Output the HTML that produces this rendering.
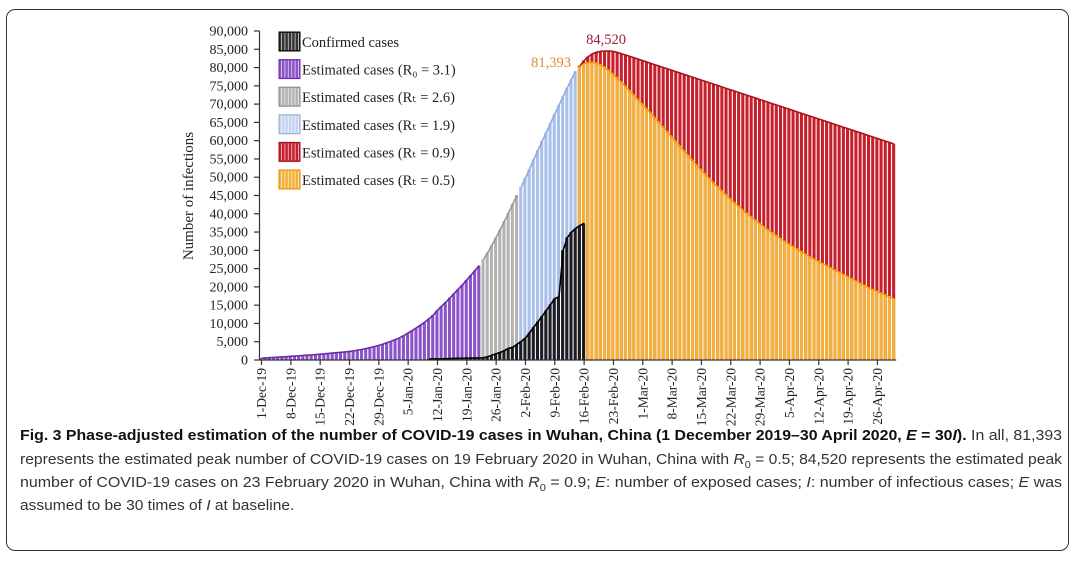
<!DOCTYPE html>
<html><head><meta charset="utf-8"><style>
html,body{margin:0;padding:0;background:#fff;}
#wrap{position:relative;width:1080px;height:565px;overflow:hidden;}
#frame{position:absolute;left:6px;top:9px;width:1063px;height:542px;border:1.5px solid #333;border-radius:9px;box-sizing:border-box;}
svg{position:absolute;left:0;top:0;}
.cap{position:absolute;left:20px;font-family:"Liberation Sans",sans-serif;font-size:14.5px;color:#333;white-space:nowrap;transform-origin:0 0;}
.cap b{color:#111;}
</style></head><body>
<div id="wrap">
<div id="frame"></div>
<svg id="chart" width="1080" height="565"></svg>
<div class="cap" id="c1" style="top:428px"><b>Fig. 3 Phase-adjusted estimation of the number of COVID-19 cases in Wuhan, China (1 December 2019–30 April 2020, <i>E</i> = 30<i>I</i>).</b> In all, 81,393</div>
<div class="cap" id="c2" style="top:452px">represents the estimated peak number of COVID-19 cases on 19 February 2020 in Wuhan, China with <i>R</i><sub style="font-size:10px">0</sub> = 0.5; 84,520 represents the estimated peak</div>
<div class="cap" id="c3" style="top:475px">number of COVID-19 cases on 23 February 2020 in Wuhan, China with <i>R</i><sub style="font-size:10px">0</sub> = 0.9; <i>E</i>: number of exposed cases; <i>I</i>: number of infectious cases; <i>E</i> was</div>
<div class="cap" id="c4" style="top:498px">assumed to be 30 times of <i>I</i> at baseline.</div>
</div>
<script>
const yTicks=[0,5000,10000,15000,20000,25000,30000,35000,40000,45000,50000,55000,60000,65000,70000,75000,80000,85000,90000];
const xTickLabels=["1-Dec-19","8-Dec-19","15-Dec-19","22-Dec-19","29-Dec-19","5-Jan-20","12-Jan-20","19-Jan-20","26-Jan-20","2-Feb-20","9-Feb-20","16-Feb-20","23-Feb-20","1-Mar-20","8-Mar-20","15-Mar-20","22-Mar-20","29-Mar-20","5-Apr-20","12-Apr-20","19-Apr-20","26-Apr-20"];
const xTickDays=[0,7,14,21,28,35,42,49,56,63,70,77,84,91,98,105,112,119,126,133,140,147];
const purpleStart=0;
const purple=[500,560,620,690,760,840,920,1000,1080,1160,1240,1320,1400,1490,1600,1700,1800,1900,2000,2100,2200,2350,2500,2700,2900,3150,3400,3700,4000,4350,4750,5150,5600,6100,6700,7400,8100,8800,9600,10400,11300,12300,13600,14700,15800,17000,18200,19400,20600,21900,23200,24500,25800];
const greyStart=53;
const grey=[27500,29400,31400,33500,35700,38000,40300,42700,45100];
const blueStart=62;
const blue=[47400,49800,52300,54900,57400,59900,62300,64800,67300,69700,72100,74500,76800,79000];
const redStart=76;
const red=[80500,81900,83000,83800,84200,84450,84520,84500,84400,84100,83750,83400,83020,82640,82260,81880,81500,81120,80740,80360,79980,79600,79220,78840,78460,78080,77700,77320,76940,76560,76180,75800,75420,75040,74660,74280,73900,73520,73140,72760,72380,72000,71620,71240,70860,70480,70100,69720,69340,68960,68580,68200,67820,67440,67060,66680,66300,65920,65540,65160,64780,64400,64020,63640,63260,62880,62500,62120,61740,61360,60980,60600,60220,59840,59460,59080];
const yellowStart=76;
const yellow=[80200,81000,81300,81393,81200,80700,80000,79100,78100,77000,75900,74700,73500,72300,71000,69800,68600,67400,66100,64800,63500,62200,60900,59600,58300,57000,55700,54400,53100,51900,50700,49500,48300,47200,46100,45000,43900,42900,41900,40900,39900,39000,38100,37200,36300,35500,34700,33900,33100,32300,31600,30900,30200,29500,28800,28100,27500,26900,26300,25700,25100,24500,23900,23300,22700,22100,21500,20900,20300,19700,19200,18700,18200,17700,17200,16700];
const confStart=40;
const confirmed=[300,300,300,320,350,380,420,450,480,500,520,540,560,600,900,1300,1700,2100,2600,3200,3500,4300,5100,6000,7500,9000,10500,12000,13600,15200,16800,17300,30000,33500,35000,36000,36800,37400];
const legendLabels=["Confirmed cases","Estimated cases (R\u2080 = 3.1)","Estimated cases (R\u209c = 2.6)","Estimated cases (R\u209c = 1.9)","Estimated cases (R\u209c = 0.9)","Estimated cases (R\u209c = 0.5)"];

const NS="http://www.w3.org/2000/svg";
const svg=document.getElementById('chart');
const X0=261.5, DX=4.19, Y0=360, YMAX=90000, YTOP=31;
function xs(d){return X0+d*DX;}
function ys(v){return Y0-(v/YMAX)*(Y0-YTOP);}
function mk(tag,attrs,parent){const e=document.createElementNS(NS,tag);for(const k in attrs)e.setAttribute(k,attrs[k]);(parent||svg).appendChild(e);return e;}

function series(arr,start,fill,stroke,name){
  const g=mk('g',{});
  
  
  let pts=[];
  arr.forEach((v,i)=>{
    const d=start+i, x=xs(d)-DX/2;
    const r=mk('rect',{x:x.toFixed(2),y:ys(v).toFixed(2),width:(DX-1.1).toFixed(2),height:(Y0-ys(v)).toFixed(2),fill:fill},g);
    
    
    pts.push(xs(d).toFixed(2)+','+ys(v).toFixed(2));
  });
  const l=mk('polyline',{points:pts.join(' '),fill:'none',stroke:stroke,'stroke-width':1.6},g);
  
  
}
series(purple,purpleStart,'#8b55c9','#6a2aa8','purple-series');
series(grey,greyStart,'#b3b3b3','#999','grey-series');
series(blue,blueStart,'#a9c1ea','#8fabe0','blue-series');
series(red,redStart,'#c7202c','#b0101c','red-series');
series(yellow,yellowStart,'#f2b23a','#f5a300','yellow-series');
series(confirmed,confStart,'#1c1c22','#000','confirmed-series');

// axes
const ax=mk('g',{stroke:'#333','stroke-width':1.2});


mk('line',{x1:259.5,y1:YTOP,x2:259.5,y2:Y0},ax);
mk('line',{x1:259.5,y1:Y0,x2:xs(151)+DX/2,y2:Y0},ax);
yTicks.forEach(v=>{
  mk('line',{x1:254,y1:ys(v),x2:259.5,y2:ys(v)},ax);
  const t=mk('text',{x:248,y:ys(v)+4.5,'text-anchor':'end','font-family':'Liberation Serif, serif','font-size':14,fill:'#222'});
  t.textContent=v.toLocaleString('en-US');
  
  
});
xTickDays.forEach((d,i)=>{
  mk('line',{x1:xs(d),y1:Y0,x2:xs(d),y2:Y0+5},ax);
  const t=mk('text',{x:0,y:0,'text-anchor':'end','font-family':'Liberation Serif, serif','font-size':13.5,fill:'#222',transform:`translate(${xs(d)+4.5},${Y0+8}) rotate(-90)`});
  t.textContent=xTickLabels[i];
  
  
});
const yt=mk('text',{x:0,y:0,'text-anchor':'middle','font-family':'Liberation Serif, serif','font-size':15,fill:'#222',transform:'translate(193,196) rotate(-90)'});
yt.textContent='Number of infections';



// legend
const lcol=[['#333','#000'],['#8b55c9','#6a2aa8'],['#b3b3b3','#888'],['#c5d5f2','#9ab'],['#c7202c','#a01018'],['#f2b23a','#e09000']];
const lg=mk('g',{});


legendLabels.forEach((s,i)=>{
  const y=32+i*27.6;
  const e=mk('g',{},lg);
  
  
  mk('rect',{x:279,y:y,width:21,height:19,fill:lcol[i][0],stroke:lcol[i][1],'stroke-width':1},e);
  for(let k=0;k<6;k++)mk('line',{x1:281.5+k*3.4,y1:y+1,x2:281.5+k*3.4,y2:y+18,stroke:'#fff','stroke-width':0.9,opacity:0.7},e);
  const t=mk('text',{x:302,y:y+15,'font-family':'Liberation Serif, serif','font-size':14.5,fill:'#222'},e);
  t.textContent=s;
});
const a1=mk('text',{x:551,y:67,'text-anchor':'middle','font-family':'Liberation Serif, serif','font-size':14.5,fill:'#e08a30'});
a1.textContent='81,393';


const a2=mk('text',{x:606,y:44,'text-anchor':'middle','font-family':'Liberation Serif, serif','font-size':14.5,fill:'#a01c3a'});
a2.textContent='84,520';



// fit caption lines
[['c1',1042],['c2',1042],['c3',1042]].forEach(([id,w])=>{const el=document.getElementById(id);const cw=el.getBoundingClientRect().width;el.style.transform=`scaleX(${w/cw})`;});
(function(){const el=document.getElementById('c4');el.style.transform='scaleX(1.07)';})();
</script>
</body></html>
